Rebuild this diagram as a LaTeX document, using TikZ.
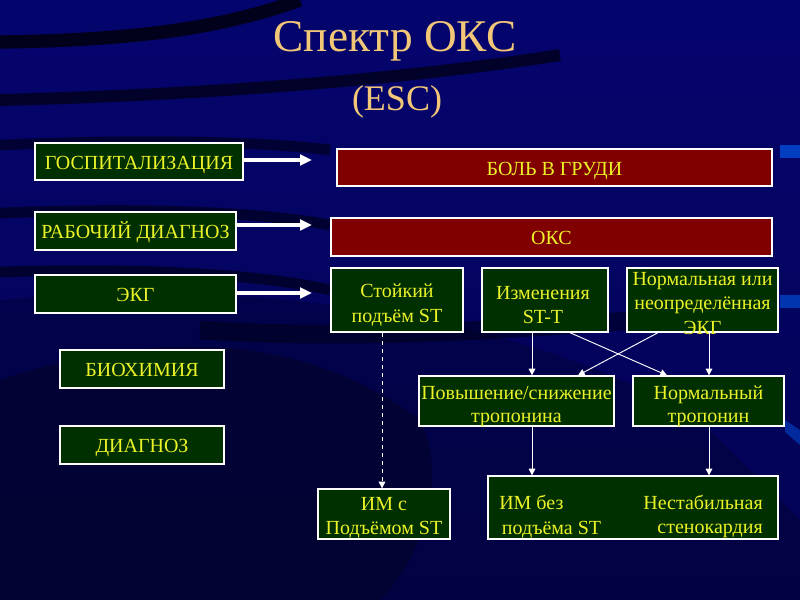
\documentclass[tikz,border=0pt]{standalone}
\usepackage{fontspec}
\setmainfont{Liberation Serif}
\usetikzlibrary{arrows.meta}
\definecolor{bgblue}{RGB}{4,4,110}
\definecolor{bgdark}{RGB}{2,2,40}
\definecolor{boxgreen}{RGB}{0,48,0}
\definecolor{boxred}{RGB}{128,0,0}
\definecolor{txtyellow}{RGB}{236,242,40}
\definecolor{titlecol}{RGB}{242,200,120}
\tikzset{
  box/.style={draw=white, line width=1pt, fill=boxgreen, text=txtyellow,
    inner sep=0pt, font=\fontsize{15}{18.5}\selectfont, text height=11.5pt, text depth=0pt},
  redbox/.style={box, fill=boxred},
  label/.style={text=txtyellow, inner sep=0pt, align=center, font=\fontsize{15}{18.5}\selectfont},
  bigarrow/.style={draw=white, line width=2.6pt, -{Triangle[length=9pt,width=8pt]}},
  thinarrow/.style={draw=white, line width=0.7pt, -{Triangle[length=5pt,width=5pt]}},
  title/.style={text=titlecol, inner sep=0pt}
}
\begin{document}
\begin{tikzpicture}[x=0.75pt,y=-0.75pt]
\useasboundingbox (0,0) rectangle (800,600);
% background
\shade[top color=bgblue, bottom color=bgblue!75!black] (0,0) rectangle (800,600);
\fill[bgdark, opacity=0.6] (0,380) .. controls (150,330) and (300,330) .. (420,420) .. controls (450,480) and (420,560) .. (380,600) -- (0,600) -- cycle;
\fill[bgdark, opacity=0.35] (0,300) .. controls (200,280) and (500,300) .. (700,420) -- (800,520) -- (800,600) -- (0,600) -- cycle;
\draw[black, opacity=0.75, line width=10pt] (0,42) .. controls (150,40) and (230,25) .. (300,0);
\draw[black, opacity=0.6, line width=9pt] (0,100) .. controls (200,95) and (400,80) .. (560,55);
\draw[black, opacity=0.5, line width=8pt] (0,145) .. controls (120,140) and (250,140) .. (330,150);
\draw[black, opacity=0.5, line width=8pt] (0,213) .. controls (120,208) and (250,210) .. (330,225);
\draw[black, opacity=0.5, line width=8pt] (0,272) .. controls (120,268) and (250,272) .. (330,290);
\draw[black, opacity=0.4, line width=14pt] (200,330) .. controls (350,340) and (500,330) .. (640,320);
\fill[blue!60!cyan, opacity=0.6] (780,145) rectangle (800,158);
\fill[blue!60!cyan, opacity=0.5] (780,295) rectangle (800,308);
\fill[blue!60!cyan, opacity=0.4] (785,420) -- (800,430) -- (800,445) -- (785,432) -- cycle;

% title
\node[title, font=\fontsize{34}{40}\selectfont] (t1) at (395,41) {Спектр ОКС};
\node[title, font=\fontsize{27}{32}\selectfont] (t2) at (397,102) {(ESC)};

% left column
\node[box, minimum width=156pt, minimum height=27.75pt] (hosp) at (139,161.5) {ГОСПИТАЛИЗАЦИЯ};
\node[box, minimum width=150.75pt, minimum height=28.5pt] (rab) at (135.5,231) {РАБОЧИЙ ДИАГНОЗ};
\node[box, minimum width=150.75pt, minimum height=28.5pt] (ekg) at (135.5,294) {ЭКГ};
\node[box, minimum width=123pt, minimum height=28.5pt] (bio) at (142,369) {БИОХИМИЯ};
\node[box, minimum width=123pt, minimum height=28.5pt] (diag) at (142,445) {ДИАГНОЗ};

\coordinate (a1) at (312,160);
\coordinate (a2) at (312,225);
\coordinate (a3) at (312,293);
\draw[bigarrow] (hosp.east |- a1) -- (a1);
\draw[bigarrow] (rab.east |- a2) -- (a2);
\draw[bigarrow] (ekg.east |- a3) -- (a3);

% right part
\node[redbox, minimum width=326.25pt, minimum height=27.75pt] (pain) at (554.5,167.5) {БОЛЬ В ГРУДИ};
\node[redbox, minimum width=330.75pt, minimum height=28.5pt] (oks) at (551.5,237) {ОКС};
\node[box, minimum width=99pt, minimum height=48pt] (st) at (397,300) {};
\node[label] (sttext) at (397,305) {Стойкий\\подъём ST};
\node[box, minimum width=94.5pt, minimum height=48pt] (stt) at (545,300) {};
\node[label] (stttext) at (543,305) {Изменения\\ST-T};
\node[box, minimum width=113.25pt, minimum height=48pt] (norm) at (702.5,300) {};
\node[label, font=\fontsize{15}{18.4}\selectfont] (normtext) at (702.5,303.5) {Нормальная или\\неопределённая\\ЭКГ};
\node[box, minimum width=146.25pt, minimum height=37.5pt] (trop) at (516.5,401) {};
\node[label, font=\fontsize{15}{17.5}\selectfont] (troptext) at (516.5,406.5) {Повышение/снижение\\тропонина};
\node[box, minimum width=113.25pt, minimum height=37.5pt] (ntrop) at (708.5,401) {};
\node[label, font=\fontsize{15}{17.5}\selectfont] (ntroptext) at (708.5,406.5) {Нормальный\\тропонин};
\node[box, minimum width=99pt, minimum height=37.5pt] (imst) at (384,514) {};
\node[label] (imsttext) at (384,518) {ИМ с\\Подъёмом ST};
\node[box, minimum width=217.5pt, minimum height=47.25pt] (imbez) at (633,507.5) {};
\node[label, anchor=west, align=left] (imbeztext) at (499,516.5) {ИМ без\\\hspace*{2pt}подъёма ST};
\node[label, anchor=east, align=right] (nstext) at (763,516.5) {Нестабильная\\стенокардия};

% connectors
\draw[thinarrow, dashed] (st.south -| 382,0) -- (imst.north -| 382,0);
\draw[thinarrow] (stt.south -| 532,0) -- (trop.north -| 532,0);
\draw[thinarrow] (norm.south -| 709,0) -- (ntrop.north -| 709,0);
\draw[thinarrow] (stt.south -| 570,0) -- (ntrop.north -| 667,0);
\draw[thinarrow] (norm.south -| 658,0) -- (trop.north -| 578,0);
\draw[thinarrow] (trop.south -| 532,0) -- (imbez.north -| 532,0);
\draw[thinarrow] (ntrop.south -| 709,0) -- (imbez.north -| 709,0);
\end{tikzpicture}
\end{document}
